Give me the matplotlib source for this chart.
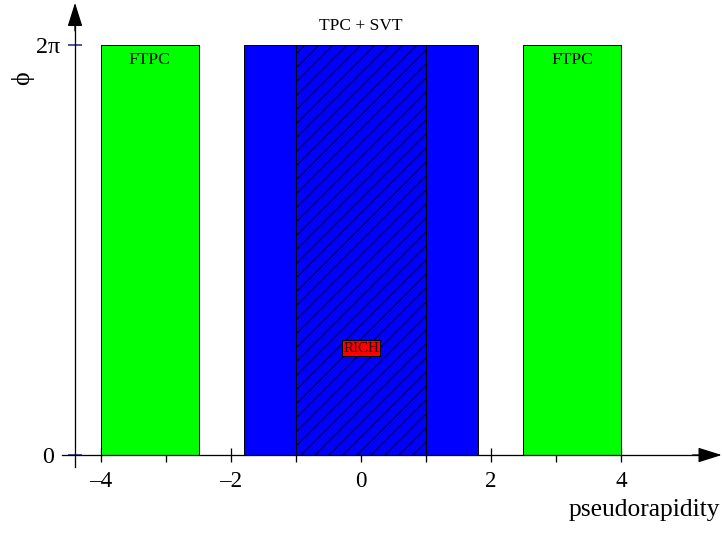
import numpy as np
import matplotlib
matplotlib.use("Agg")
import matplotlib.pyplot as plt

DPI = 84
W, H = 722, 533


def px(n):
    # pixel size -> points at the figure dpi
    return n * 72.0 / DPI


plt.rcParams['font.family'] = ['Liberation Serif', 'DejaVu Serif']
plt.rcParams['hatch.linewidth'] = px(1.1)

# detector acceptance in (pseudorapidity, phi)
detectors = ['FTPC', 'TPC + SVT', 'FTPC']
eta_lo = [-4.0, -1.8, 2.5]
eta_hi = [-2.5, 1.8, 4.0]
colors = ['#00ff00', '#0000ff', '#00ff00']
rich_lo, rich_hi = -1.0, 1.0
rich_label_phi = 1.64
phi_max = 2 * np.pi

fig = plt.figure(figsize=(W / DPI, H / DPI), dpi=DPI)
ax = fig.add_axes([0, 0, 1, 1])
ax.set_xlim(-5.554, 5.554)
ax.set_ylim(-1.195, 6.973)
ax.patch.set_visible(False)

for lo, hi, c in zip(eta_lo, eta_hi, colors):
    ax.bar(lo, phi_max, width=hi - lo, align='edge', color=c,
           edgecolor='black', linewidth=px(1), zorder=2)
ax.bar(rich_lo, phi_max, width=rich_hi - rich_lo, align='edge',
       facecolor='none', edgecolor='black', hatch='//', linewidth=px(1), zorder=3)

ax.text((eta_lo[0] + eta_hi[0]) / 2, 6.05, detectors[0], ha='center', va='center', fontsize=px(17.4), zorder=4)
ax.text((eta_lo[2] + eta_hi[2]) / 2, 6.05, detectors[2], ha='center', va='center', fontsize=px(17.4), zorder=4)
ax.text(0, 6.58, detectors[1], ha='center', va='center', fontsize=px(17.4))
ax.text(0, rich_label_phi, 'RICH', ha='center', va='center', fontsize=px(15), color='#300000', zorder=5,
        bbox=dict(boxstyle='square,pad=0.1', facecolor='#ff0000', edgecolor='black', linewidth=px(1)))

# axes drawn as arrows through the origin
for side in ['top', 'right']:
    ax.spines[side].set_visible(False)
ax.spines['left'].set_position(('data', -4.4))
ax.spines['left'].set_bounds(-0.18, 6.7)
ax.spines['bottom'].set_position(('data', 0))
ax.spines['bottom'].set_bounds(-4.6, 5.3)
for sp in ['left', 'bottom']:
    ax.spines[sp].set_linewidth(px(1.3))
    ax.spines[sp].set_zorder(6)

head = dict(arrowstyle='-|>,head_length=1.75,head_width=0.55', color='black',
            lw=px(1.3), mutation_scale=10, shrinkA=0, shrinkB=0)
ax.annotate('', xy=(5.55, 0), xytext=(5.1, 0), arrowprops=head)
ax.annotate('', xy=(-4.4, 6.93), xytext=(-4.4, 6.5), arrowprops=head)

ax.set_xticks([-4, -2, 0, 2, 4])
ax.set_xticklabels(['\u20134', '\u20132', '0', '2', '4'])
ax.set_xticks([-3, -1, 1, 3], minor=True)
ax.tick_params(axis='x', which='major', direction='inout', length=px(14), width=px(1.3),
               labelsize=px(23), pad=px(9))
ax.tick_params(axis='x', which='minor', direction='out', length=px(7), width=px(1.3))

ax.set_yticks([0, phi_max])
ax.set_yticklabels(['0', '2\u03c0'])
ax.tick_params(axis='y', which='major', direction='inout', length=px(14), width=px(1.5),
               labelsize=px(24), pad=px(20), color='#1c1c7c')
for lab in ax.get_yticklabels():
    lab.set_ha('center')

ax.text(-5.2, 5.78, '\u03d5', rotation=90, ha='center', va='center', fontsize=px(26))
ax.text(5.53, -0.84, 'pseudorapidity', ha='right', va='center', fontsize=px(25.5))

fig.savefig('out.png', dpi=DPI)
